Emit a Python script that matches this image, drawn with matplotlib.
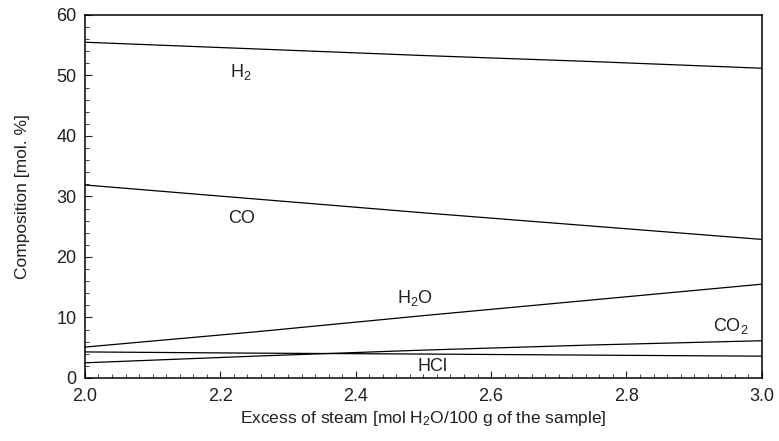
import matplotlib
matplotlib.use("Agg")
import matplotlib.pyplot as plt
from matplotlib.ticker import MultipleLocator, FormatStrFormatter

plt.rcParams['font.family'] = ['Liberation Sans', 'DejaVu Sans']
plt.rcParams['mathtext.default'] = 'regular'

x = [2.0, 2.25, 2.5, 2.75, 3.0]
h2 = [55.5, 54.4, 53.3, 52.3, 51.2]
co = [31.9, 29.6, 27.3, 25.1, 22.9]
h2o = [5.1, 7.6, 10.3, 12.9, 15.5]
co2 = [2.5, 3.6, 4.6, 5.45, 6.15]
hcl = [4.3, 4.1, 3.95, 3.77, 3.6]

labels = ['H$_2$', 'CO', 'H$_2$O', 'CO$_2$', 'HCl']
label_pos = [(2.23, 50.6), (2.232, 26.4), (2.487, 13.2), (2.954, 8.6), (2.514, 1.95)]

fig = plt.figure(figsize=(7.79, 4.41), dpi=100)
ax = fig.add_axes([0.109, 0.143, 0.869, 0.823])
for s in [h2, co, h2o, co2, hcl]:
    ax.plot(x, s, color='black', lw=0.9)
for lab, (lx, ly) in zip(labels, label_pos):
    ax.text(lx, ly, lab, fontsize=13, ha='center', va='center', color='#231f20')

ax.set_xlim(2.0, 3.0)
ax.set_ylim(0, 60)
ax.xaxis.set_major_locator(MultipleLocator(0.2))
ax.xaxis.set_minor_locator(MultipleLocator(0.02))
ax.yaxis.set_major_locator(MultipleLocator(10))
ax.yaxis.set_minor_locator(MultipleLocator(2))
ax.xaxis.set_major_formatter(FormatStrFormatter('%.1f'))
ax.tick_params(which='both', direction='in', top=False, right=False, labelsize=13, colors='#231f20')
ax.tick_params(which='major', length=5)
ax.tick_params(axis='x', which='major', pad=7)
ax.tick_params(axis='y', which='major', pad=6)
ax.tick_params(which='minor', length=3)
for sp in ax.spines.values():
    sp.set_linewidth(1.1)
ax.set_xlabel('Excess of steam [mol H$_2$O/100 g of the sample]', fontsize=12.5, color='#231f20', labelpad=3)
ax.set_ylabel('Composition [mol. %]', fontsize=12.5, color='#231f20', labelpad=19)
fig.savefig('out.png', dpi=100)
